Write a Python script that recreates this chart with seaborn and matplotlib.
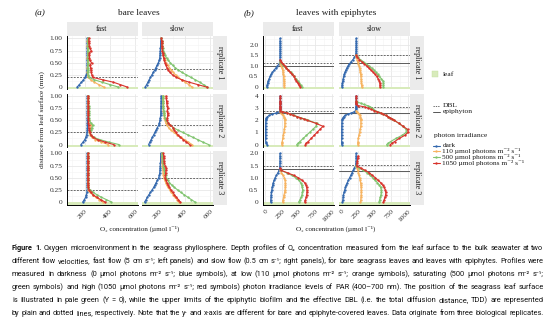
import matplotlib
matplotlib.use("Agg")
import matplotlib.pyplot as plt
from matplotlib import font_manager
from matplotlib.patches import Rectangle
from matplotlib.lines import Line2D
from matplotlib.ticker import AutoMinorLocator, FixedLocator
import numpy as np
import pandas as pd
import seaborn as sns

# ---------------------------------------------------------------- data
LEVELS = ["dark", "110", "500", "1050"]
LEVEL_LABELS = ["dark",
                "110 µmol photons m⁻² s⁻¹",
                "500 µmol photons m⁻² s⁻¹",
                "1050 µmol photons m⁻² s⁻¹"]
FLOWS = ["fast", "slow"]
REPLICATES = ["replicate 1", "replicate 2", "replicate 3"]

# bare leaves: depth (mm) and O2 (µmol l-1)
D_BARE = [0.00, 0.05, 0.10, 0.15, 0.20, 0.25, 0.30, 0.35, 0.40, 0.45, 0.50,
          0.55, 0.60, 0.65, 0.70, 0.75, 0.80, 0.85, 0.90, 0.95, 1.00]

BF1_DARK = [138, 155, 172, 188, 202, 210, 215, 217, 218, 218, 219, 218, 218, 219, 218, 219, 218, 218, 219, 218, 218]
BF1_110 = [350, 310, 275, 245, 225, 221, 220, 221, 220, 221, 222, 221, 220, 221, 221, 222, 221, 220, 221, 220, 221]
BF1_500 = [465, 400, 335, 275, 232, 224, 222, 222, 223, 222, 223, 222, 222, 223, 222, 222, 223, 222, 222, 223, 222]
BF1_1050 = [535, 480, 425, 340, 262, 255, 250, 247, 244, 240, 252, 238, 236, 234, 236, 250, 238, 234, 232, 231, 230]

BF2_DARK = [168, 185, 198, 207, 213, 217, 219, 219, 220, 219, 220, 219, 220, 219, 220, 220, 219, 220, 219, 220, 220]
BF2_110 = [385, 330, 282, 255, 240, 235, 238, 246, 250, 240, 232, 228, 226, 225, 226, 225, 224, 224, 223, 223, 223]
BF2_500 = [470, 390, 320, 268, 245, 240, 248, 255, 262, 245, 235, 232, 230, 232, 235, 232, 230, 228, 228, 227, 227]
BF2_1050 = [428, 360, 300, 265, 246, 238, 233, 230, 229, 228, 228, 227, 228, 227, 226, 227, 226, 226, 225, 225, 225]

BF3_DARK = [182, 195, 205, 212, 216, 218, 219, 219, 219, 220, 219, 219, 220, 219, 219, 220, 219, 219, 220, 219, 219]
BF3_110 = [345, 315, 285, 260, 240, 228, 223, 222, 222, 221, 222, 222, 221, 222, 222, 221, 222, 222, 221, 222, 222]
BF3_500 = [410, 370, 330, 295, 265, 240, 228, 224, 223, 223, 224, 223, 223, 224, 223, 223, 224, 223, 223, 223, 223]
BF3_1050 = [360, 325, 292, 265, 245, 232, 226, 224, 223, 224, 222, 223, 224, 222, 223, 224, 223, 222, 223, 224, 223]

BS1_DARK = [83, 94, 105, 115, 125, 136, 147, 158, 168, 178, 188, 194, 198, 200, 202, 203, 204, 205, 206, 207, 208]
BS1_110 = [455, 428, 400, 372, 345, 325, 305, 290, 275, 260, 248, 240, 232, 227, 223, 220, 217, 215, 214, 213, 212]
BS1_500 = [575, 545, 515, 480, 445, 410, 375, 345, 320, 300, 282, 265, 252, 242, 234, 228, 222, 218, 215, 213, 212]
BS1_1050 = [570, 500, 432, 372, 330, 300, 280, 265, 255, 247, 240, 234, 229, 225, 222, 219, 217, 215, 214, 213, 212]

BS2_DARK = [110, 120, 130, 140, 150, 160, 170, 180, 190, 196, 200, 203, 205, 206, 207, 208, 208, 209, 209, 210, 210]
BS2_110 = [455, 425, 395, 365, 335, 310, 287, 268, 255, 246, 240, 235, 232, 230, 228, 226, 225, 224, 223, 222, 222]
BS2_500 = [585, 540, 500, 460, 420, 380, 340, 305, 280, 260, 247, 240, 235, 232, 230, 228, 226, 225, 224, 223, 222]
BS2_1050 = [435, 410, 385, 362, 340, 325, 312, 305, 280, 265, 255, 258, 262, 260, 258, 262, 257, 254, 252, 250, 248]

BS3_DARK = [78, 90, 100, 112, 125, 138, 150, 160, 170, 180, 190, 195, 198, 200, 202, 203, 204, 205, 205, 206, 206]
BS3_110 = [350, 335, 320, 305, 290, 277, 265, 254, 245, 238, 232, 228, 225, 223, 221, 220, 219, 218, 217, 216, 215]
BS3_500 = [478, 449, 420, 392, 365, 340, 315, 294, 275, 262, 250, 244, 238, 234, 231, 228, 225, 223, 221, 219, 218]
BS3_1050 = [362, 346, 330, 315, 300, 287, 275, 264, 255, 247, 240, 243, 245, 247, 250, 240, 235, 232, 230, 229, 228]

# leaves with epiphytes (series measured under light stop at the biofilm top)
D_EPI1 = [0.0, 0.1, 0.2, 0.3, 0.4, 0.5, 0.6, 0.7, 0.8, 0.9, 1.0, 1.1,
          1.2, 1.3, 1.4, 1.5, 1.6, 1.7, 1.8, 1.9, 2.0, 2.1, 2.2, 2.3]
EF1_DARK = [18, 25, 32, 42, 55, 70, 85, 105, 130, 155, 180, 205, 215, 218, 219, 219, 220, 219, 220, 220, 220, 219, 220, 220]
EF1_110 = [280, 279, 278, 276, 274, 272, 268, 264, 258, 250, 240, 225, 220]
EF1_500 = [550, 528, 506, 484, 458, 432, 405, 378, 345, 310, 278, 245, 225]
EF1_1050 = [525, 505, 485, 465, 445, 425, 400, 375, 345, 315, 290, 260, 238, 222]
ES1_DARK = [5, 10, 14, 20, 26, 32, 42, 52, 65, 80, 98, 120, 145, 172, 195, 212, 218, 220, 221, 221, 222, 222, 221, 222]
ES1_110 = [305, 303, 301, 298, 295, 292, 288, 284, 278, 272, 265, 255, 245, 235, 225, 216]
ES1_500 = [630, 630, 630, 625, 600, 570, 545, 518, 490, 455, 415, 375, 330, 285, 245, 222]
ES1_1050 = [580, 580, 578, 570, 550, 530, 505, 478, 445, 412, 380, 345, 305, 268, 240, 222]

D_EPI2 = [0.0, 0.1, 0.25, 0.5, 0.75, 1.0, 1.25, 1.5, 1.75, 2.0, 2.1, 2.2, 2.3, 2.4,
          2.5, 2.6, 2.7, 2.8, 2.9, 3.0, 3.1, 3.2, 3.3, 3.4, 3.5, 3.6, 3.8, 4.0]
EF2_DARK = [25, 12, 4, 2, 2, 2, 2, 2, 3, 5, 8, 14, 30, 60, 100, 160, 205, 218, 219, 220, 219, 220, 220, 219, 220, 220, 220, 220]
EF2_110 = [245, 247, 252, 260, 268, 276, 283, 290, 292, 290, 288, 284, 278, 268, 255, 238, 222]
EF2_500 = [470, 490, 519, 567, 616, 665, 713, 762, 775, 640, 590, 535, 480, 425, 375, 330, 250, 224]
EF2_1050 = [600, 610, 644, 688, 732, 776, 820, 868, 757, 628, 577, 525, 474, 422, 371, 330, 255, 226, 222, 222, 221, 222, 222, 222, 221, 222, 222, 223]
ES2_DARK = [3, 3, 3, 3, 3, 3, 3, 4, 5, 8, 13, 20, 33, 55, 95, 150, 190, 212, 218, 219, 220, 220, 219, 220, 220, 221, 220, 220]
ES2_110 = [245, 246, 248, 252, 262, 272, 282, 290, 292, 290, 288, 284, 280, 272, 262, 248, 232, 222]
ES2_500 = [680, 700, 740, 820, 910, 975, 975, 920, 860, 790, 760, 730, 700, 665, 630, 595, 550, 505, 475, 455, 435, 395, 335, 290, 235, 222]
ES2_1050 = [735, 760, 800, 870, 950, 1005, 995, 930, 865, 795, 765, 735, 700, 665, 630, 590, 540, 490, 445, 400, 350, 250, 224, 222, 222, 222, 222, 222]

D_EPI3 = [0.0, 0.1, 0.2, 0.3, 0.4, 0.5, 0.6, 0.7, 0.8, 0.9, 1.0,
          1.1, 1.2, 1.3, 1.4, 1.5, 1.6, 1.7, 1.8, 1.9, 2.0]
EF3_DARK = [78, 80, 83, 86, 90, 95, 100, 108, 118, 130, 145, 165, 185, 205, 214, 216, 217, 218, 218, 218, 218]
EF3_110 = [258, 265, 272, 280, 288, 295, 298, 300, 298, 295, 285, 265, 240, 222]
EF3_500 = [500, 520, 538, 550, 557, 560, 555, 545, 530, 500, 455, 395, 320, 235]
EF3_1050 = [590, 603, 612, 620, 625, 625, 620, 610, 590, 550, 495, 425, 335, 240, 222]
ES3_DARK = [15, 20, 24, 30, 38, 48, 60, 72, 88, 104, 122, 140, 158, 177, 195, 212, 218, 220, 221, 220, 220]
ES3_110 = [285, 290, 294, 297, 298, 298, 296, 292, 287, 281, 275, 265, 255, 245, 233, 224]
ES3_500 = [565, 575, 585, 595, 603, 600, 590, 570, 540, 505, 470, 430, 390, 330, 270, 225]
ES3_1050 = [630, 645, 655, 665, 668, 660, 645, 620, 590, 550, 510, 465, 420, 360, 290, 228, 235, 240, 245, 250]

# diffusive boundary layer (dotted) and epiphyte biofilm top (plain), mm
BARE_DBL_FAST = [0.20, 0.25, 0.25]
BARE_DBL_SLOW = [0.38, 0.40, 0.50]
EPI_DBL_FAST = [1.15, 2.75, 1.50]
EPI_DBL_SLOW = [1.50, 3.10, 1.53]
EPI_TOP_FAST = [1.00, 2.58, 1.35]
EPI_TOP_SLOW = [1.13, 2.60, 1.28]

BARE_YTICKS = [0, 0.25, 0.50, 0.75, 1.00]
BARE_YTICKLABELS = ["0", "0.25", "0.50", "0.75", "1.00"]
EPI_YTICKS = [[0, 0.5, 1.0, 1.5, 2.0], [0, 1, 2, 3, 4], [0, 0.5, 1.0, 1.5, 2.0]]
EPI_YTICKLABELS = [["0", "0.5", "1.0", "1.5", "2.0"], ["0", "1", "2", "3", "4"],
                   ["0", "0.5", "1.0", "1.5", "2.0"]]
BARE_XTICKS = [200, 400, 600]
EPI_XTICKS = [0, 250, 500, 750, 1000]

CAPTION_LINES = [
    "Figure 1. Oxygen microenvironment in the seagrass phyllosphere. Depth profiles of O₂ concentration measured from the leaf surface to the bulk seawater at two",
    "different flow velocities, fast flow (5 cm s⁻¹; left panels) and slow flow (0.5 cm s⁻¹; right panels), for bare seagrass leaves and leaves with epiphytes. Profiles were",
    "measured in darkness (0 µmol photons m⁻² s⁻¹; blue symbols), at low (110 µmol photons m⁻² s⁻¹; orange symbols), saturating (500 µmol photons m⁻² s⁻¹;",
    "green symbols) and high (1050 µmol photons m⁻² s⁻¹; red symbols) photon irradiance levels of PAR (400–700 nm). The position of the seagrass leaf surface",
    "is illustrated in pale green (Y = 0), while the upper limits of the epiphytic biofilm and the effective DBL (i.e. the total diffusion distance, TDD) are represented",
    "by plain and dotted lines, respectively. Note that the y- and x-axis are different for bare and epiphyte-covered leaves. Data originate from three biological replicates.",
]

# ---------------------------------------------------------------- style
COLORS = ["#3368ae", "#f7b35f", "#80c46f", "#d8322b"]
PALETTE = dict(zip(LEVELS, COLORS))
LEAF = "#d8ebbb"
STRIP = "#ebebeb"
GRID = "#e6e6e6"
TXT = "#1a1a1a"

sns.set_theme(style="white")
plt.rcParams["font.family"] = ["Liberation Serif", "DejaVu Serif"]
plt.rcParams["axes.unicode_minus"] = False

W, H, DPI = 554, 327, 100
fig = plt.figure(figsize=(W / DPI, H / DPI), dpi=DPI)

# full-figure pixel canvas for strips, titles, legend and caption
ov = fig.add_axes([0, 0, 1, 1])
ov.set_xlim(0, W)
ov.set_ylim(H, 0)
ov.axis("off")

ROW_TOPS = [36.0, 93.5, 151.0]
ROW_H = 53.5
STRIP_TOP, STRIP_H = 22.0, 14.0

BARE_COLS = [(66.5, 137.5), (141.5, 212.5)]
BARE_RSTRIP = (213.0, 226.5)
EPI_COLS = [(262.5, 333.5), (338.5, 409.5)]
EPI_RSTRIP = (410.0, 423.5)

BARE_XLIM = (54, 616)
EPI_XLIM = (-45, 1025)
BARE_YLIM = (-0.05, 1.05)
EPI_YLIMS = [(-0.115, 2.415), (-0.2, 4.2), (-0.1, 2.1)]

BARE_SERIES = {
    ("fast", 0): (BF1_DARK, BF1_110, BF1_500, BF1_1050),
    ("fast", 1): (BF2_DARK, BF2_110, BF2_500, BF2_1050),
    ("fast", 2): (BF3_DARK, BF3_110, BF3_500, BF3_1050),
    ("slow", 0): (BS1_DARK, BS1_110, BS1_500, BS1_1050),
    ("slow", 1): (BS2_DARK, BS2_110, BS2_500, BS2_1050),
    ("slow", 2): (BS3_DARK, BS3_110, BS3_500, BS3_1050),
}
EPI_SERIES = {
    ("fast", 0): (EF1_DARK, EF1_110, EF1_500, EF1_1050),
    ("fast", 1): (EF2_DARK, EF2_110, EF2_500, EF2_1050),
    ("fast", 2): (EF3_DARK, EF3_110, EF3_500, EF3_1050),
    ("slow", 0): (ES1_DARK, ES1_110, ES1_500, ES1_1050),
    ("slow", 1): (ES2_DARK, ES2_110, ES2_500, ES2_1050),
    ("slow", 2): (ES3_DARK, ES3_110, ES3_500, ES3_1050),
}
EPI_DEPTHS = [D_EPI1, D_EPI2, D_EPI3]


def px_axes(x0, x1, y0, y1):
    return fig.add_axes([x0 / W, 1 - y1 / H, (x1 - x0) / W, (y1 - y0) / H])


def profile_frame(depth, series):
    frames = []
    for level, vals in zip(LEVELS, series):
        frames.append(pd.DataFrame({"depth": depth[:len(vals)], "o2": vals, "irradiance": level}))
    return pd.concat(frames, ignore_index=True)


def draw_panel(ax, depth, series, xlim, ylim, xticks, yticks, yticklabels,
               left, bottom, dbl, epi_top=None):
    df = profile_frame(depth, series)
    ax.axhspan(ylim[0], 0, color=LEAF, lw=0, zorder=1)
    sns.lineplot(data=df, x="o2", y="depth", hue="irradiance", hue_order=LEVELS,
                 palette=PALETTE, sort=False, estimator=None, legend=False,
                 linewidth=0.8, marker="o", markersize=1.7, markeredgewidth=0,
                 ax=ax, zorder=3)
    ax.axhline(dbl, color="#555555", lw=0.6, ls=(0, (2.2, 1.6)), zorder=2)
    if epi_top is not None:
        ax.axhline(epi_top, color="#5a5a5a", lw=0.7, zorder=2)
    ax.set_xlim(*xlim)
    ax.set_ylim(*ylim)
    ax.set_xlabel("")
    ax.set_ylabel("")
    ax.xaxis.set_major_locator(FixedLocator(xticks))
    ax.yaxis.set_major_locator(FixedLocator(yticks))
    ax.xaxis.set_minor_locator(AutoMinorLocator(2))
    ax.yaxis.set_minor_locator(AutoMinorLocator(2))
    ax.set_axisbelow(True)
    ax.grid(which="major", color=GRID, lw=0.55)
    ax.grid(which="minor", color="#f3f3f3", lw=0.4)
    ax.set_facecolor("white")
    for s in ax.spines.values():
        s.set_visible(False)
    ax.tick_params(which="minor", length=0)
    ax.tick_params(which="major", length=2, width=0.5, color="#333333",
                   labelsize=5.3, labelcolor="#333333", pad=1)
    if left:
        ax.spines["left"].set_visible(True)
        ax.spines["left"].set_color("black")
        ax.spines["left"].set_linewidth(0.7)
        ax.set_yticklabels(yticklabels)
    else:
        ax.tick_params(axis="y", left=False, labelleft=False)
    if bottom:
        ax.spines["bottom"].set_visible(True)
        ax.spines["bottom"].set_color("black")
        ax.spines["bottom"].set_linewidth(0.7)
        ax.set_xticklabels([str(t) for t in xticks])
        for lbl in ax.get_xticklabels():
            lbl.set_rotation(45)
            lbl.set_ha("right")
            lbl.set_va("top")
            lbl.set_rotation_mode("anchor")
    else:
        ax.tick_params(axis="x", bottom=False, labelbottom=False)


def strips(cols, rstrip):
    for (x0, x1), name in zip(cols, FLOWS):
        ov.add_patch(Rectangle((x0, STRIP_TOP), x1 - x0, STRIP_H, fc=STRIP, ec="none"))
        ov.text((x0 + x1) / 2, STRIP_TOP + STRIP_H / 2 + 0.3, name, ha="center",
                va="center", fontsize=5.7, color=TXT)
    for top, name in zip(ROW_TOPS, REPLICATES):
        ov.add_patch(Rectangle((rstrip[0], top), rstrip[1] - rstrip[0], ROW_H, fc=STRIP, ec="none"))
        ov.text((rstrip[0] + rstrip[1]) / 2, top + ROW_H / 2, name, ha="center",
                va="center", rotation=-90, fontsize=5.7, color=TXT)


# bare leaves
for r in range(3):
    for c, flow in enumerate(FLOWS):
        x0, x1 = BARE_COLS[c]
        ax = px_axes(x0, x1, ROW_TOPS[r], ROW_TOPS[r] + ROW_H)
        dbl = (BARE_DBL_FAST if flow == "fast" else BARE_DBL_SLOW)[r]
        draw_panel(ax, D_BARE, BARE_SERIES[(flow, r)], BARE_XLIM, BARE_YLIM,
                   BARE_XTICKS, BARE_YTICKS, BARE_YTICKLABELS,
                   left=(c == 0), bottom=(r == 2), dbl=dbl)

# leaves with epiphytes
for r in range(3):
    for c, flow in enumerate(FLOWS):
        x0, x1 = EPI_COLS[c]
        ax = px_axes(x0, x1, ROW_TOPS[r], ROW_TOPS[r] + ROW_H)
        dbl = (EPI_DBL_FAST if flow == "fast" else EPI_DBL_SLOW)[r]
        top = (EPI_TOP_FAST if flow == "fast" else EPI_TOP_SLOW)[r]
        draw_panel(ax, EPI_DEPTHS[r], EPI_SERIES[(flow, r)], EPI_XLIM, EPI_YLIMS[r],
                   EPI_XTICKS, EPI_YTICKS[r], EPI_YTICKLABELS[r],
                   left=(c == 0), bottom=(r == 2), dbl=dbl, epi_top=top)

strips(BARE_COLS, BARE_RSTRIP)
strips(EPI_COLS, EPI_RSTRIP)

# titles and axis labels
ov.text(40, 13, "(a)", fontsize=6.7, style="italic", ha="center", va="center", color=TXT)
ov.text(139, 13, "bare leaves", fontsize=6.7, ha="center", va="center", color=TXT)
ov.text(249, 13, "(b)", fontsize=6.7, style="italic", ha="center", va="center", color=TXT)
ov.text(336, 13, "leaves with epiphytes", fontsize=6.7, ha="center", va="center", color=TXT)
ov.text(42, 120, "distance from leaf surface (mm)", rotation=90, fontsize=5.4,
        ha="center", va="center", color=TXT)
ov.text(139.5, 229, "O₂ concentration (µmol l⁻¹)", fontsize=5.1, ha="center", va="center", color=TXT)
ov.text(336, 229, "O₂ concentration (µmol l⁻¹)", fontsize=5.1, ha="center", va="center", color=TXT)

# legend
LX0, LX1, LTX = 432.5, 439.5, 442.5
ov.add_patch(Rectangle((432.3, 71.3), 5.8, 5.8, fc=LEAF, ec="#c4dfa0", lw=0.3))
ov.text(LTX, 74.2, "leaf", fontsize=5.4, va="center", color=TXT)
ov.add_line(Line2D([LX0, LX1], [106, 106], color="#555555", lw=0.6, ls=(0, (1.6, 1.2))))
ov.text(LTX, 105.8, "DBL", fontsize=5.4, va="center", color=TXT)
ov.add_line(Line2D([LX0, LX1], [111.5, 111.5], color="#555555", lw=0.7))
ov.text(LTX, 111.3, "epiphyton", fontsize=5.4, va="center", color=TXT)
ov.text(434.5, 136, "photon irradiance", fontsize=5.4, va="center", color=TXT)
for i, (lab, col) in enumerate(zip(LEVEL_LABELS, COLORS)):
    y = 145.7 + i * 5.7
    ov.add_line(Line2D([LX0, LX1], [y, y], color=col, lw=0.8))
    ov.add_line(Line2D([(LX0 + LX1) / 2], [y], color=col, marker="o", ms=1.7, mew=0))
    ov.text(LTX, y - 0.2, lab, fontsize=5.3, va="center", color=TXT)

# caption, justified between the page margins; prefer a narrow sans face
available = {f.name for f in font_manager.fontManager.ttflist}
cap_main = next((f for f in ["Liberation Sans Narrow", "Roboto", "Liberation Sans"]
                 if f in available), "DejaVu Sans")
cap_family = [cap_main, "DejaVu Sans"]

renderer = fig.canvas.get_renderer()
CAP_X0, CAP_X1 = 12.0, 543.5
CAP_Y = [248.5, 261.5, 274.5, 287.5, 300.5, 313.5]


def cap_text(x, y, word, size, weight):
    return ov.text(x, y, word, fontsize=size, family=cap_family,
                   fontweight=weight, va="center", ha="left", color="#111111")


def word_width(word, size, weight):
    t = cap_text(0, 0, word, size, weight)
    w = t.get_window_extent(renderer).width
    t.remove()
    return w


line_words = []
for i, line in enumerate(CAPTION_LINES):
    words = line.split(" ")
    weights = ["bold" if (i == 0 and k < 2) else "normal" for k in range(len(words))]
    line_words.append(list(zip(words, weights)))

ref = 10.0
space_ref = word_width("a a", ref, "normal") - word_width("aa", ref, "normal")
fit_sizes = []
for words in line_words:
    tot = sum(word_width(w, ref, wt) for w, wt in words) + space_ref * (len(words) - 1)
    fit_sizes.append(ref * (CAP_X1 - CAP_X0) / tot)
common_size = float(np.median(fit_sizes)) * 0.99

for words, y, fit in zip(line_words, CAP_Y, fit_sizes):
    size = min(common_size, fit * 0.995)
    widths = [word_width(w, size, wt) for w, wt in words]
    gap = (CAP_X1 - CAP_X0 - sum(widths)) / (len(words) - 1)
    x = CAP_X0
    for (w, wt), wd in zip(words, widths):
        cap_text(x, y, w, size, wt)
        x += wd + gap

fig.savefig("out.png", dpi=DPI)
